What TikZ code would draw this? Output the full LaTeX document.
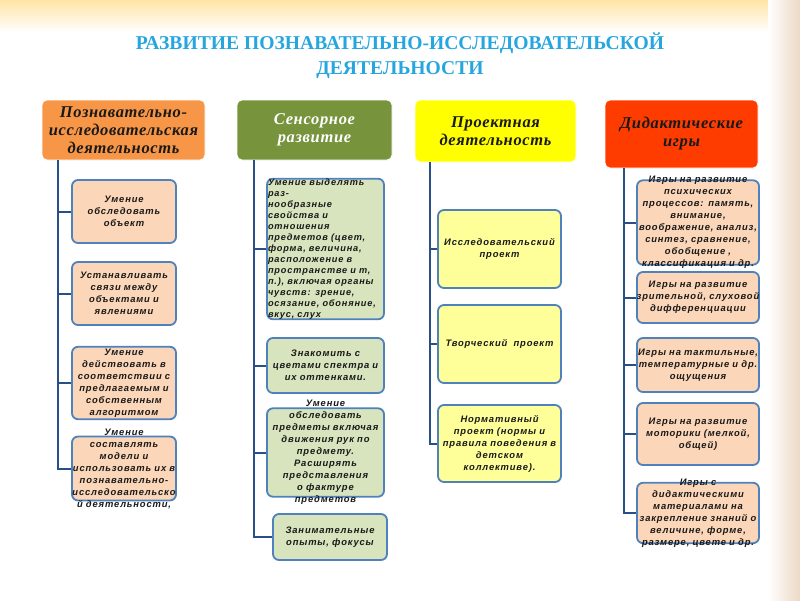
\documentclass[tikz,border=0pt]{standalone}
\usepackage{fontspec}
\setmainfont{Liberation Serif}
\newfontfamily\headfont[LetterSpace=4]{Liberation Serif}
\newfontfamily\boxfont[LetterSpace=9]{Liberation Sans}
\usetikzlibrary{positioning}
\definecolor{titleblue}{RGB}{38,166,222}
\definecolor{spineblue}{RGB}{40,80,135}
\definecolor{rimblue}{RGB}{79,129,189}
\definecolor{hdorange}{RGB}{247,150,70}
\definecolor{hdgreen}{RGB}{119,147,60}
\definecolor{hdyellow}{RGB}{255,255,0}
\definecolor{hdred}{RGB}{255,60,0}
\definecolor{softpeach}{RGB}{251,214,184}
\definecolor{softgreen}{RGB}{215,228,189}
\definecolor{softyellow}{RGB}{255,255,153}
\definecolor{inkgray}{RGB}{25,25,25}
\newcommand{\wideline}[1]{\makebox[\linewidth]{#1}}
\tikzset{
  head/.style={
    rounded corners=5pt,
    draw=white,
    thick,
    align=center,
    inner sep=2pt,
    text=inkgray,
    font=\headfont\bfseries\itshape\fontsize{16.5}{18}\selectfont
  },
  item/.style={
    rounded corners=6pt,
    draw=rimblue,
    line width=1.8pt,
    align=center,
    inner xsep=1pt,
    inner ysep=2pt,
    text=inkgray,
    font=\boxfont\bfseries\itshape\fontsize{9.4}{12}\selectfont
  },
  peachbox/.style={item, fill=softpeach},
  greenbox/.style={item, fill=softgreen},
  yellowbox/.style={item, fill=softyellow},
  spine/.style={draw=spineblue, line width=2pt}
}

\begin{document}
\begin{tikzpicture}[x=1pt, y=-1pt]
  \useasboundingbox (0,0) rectangle (800,600);
  % background
  \fill[white] (0,0) rectangle (800,600);
  \shade[top color=yellow!40!orange!35, bottom color=white] (0,0) rectangle (800,32);
  \shade[left color=white, right color=brown!30] (768,0) rectangle (800,600);

  % title
  \node[text=titleblue, align=center, font=\bfseries\fontsize{19.6}{25}\selectfont] (title) at (400,56)
    {РАЗВИТИЕ ПОЗНАВАТЕЛЬНО-ИССЛЕДОВАТЕЛЬСКОЙ\\ДЕЯТЕЛЬНОСТИ};

  % headers
  \node[head, fill=hdorange, minimum width=163pt, minimum height=60pt] (h1) at (123.5,130)
    {Познавательно-\\исследовательская\\деятельность};
  \node[head, fill=hdgreen, text=white, minimum width=155pt, minimum height=60pt] (h2) at (314.5,130)
    {Сенсорное\\развитие};
  \node[head, fill=hdyellow, minimum width=161pt, minimum height=62pt] (h3) at (495.5,131)
    {Проектная\\деятельность};
  \node[head, fill=hdred, minimum width=153pt, minimum height=68pt] (h4) at (681.5,134)
    {Дидактические\\игры};

  \coordinate (t1) at (58,160);
  \coordinate (t2) at (254,160);
  \coordinate (t3) at (430,162);
  \coordinate (t4) at (624,168);

  % column 1
  \node[peachbox, text width=102pt, minimum height=63pt] (b11) at (124,211.5)
    {Умение\\обследовать\\объект};
  \node[peachbox, text width=102pt, minimum height=63pt] (b12) at (124,293.5)
    {Устанавливать\\связи между\\объектами и\\явлениями};
  \node[peachbox, text width=102pt, minimum height=70pt] (b13) at (124,383)
    {Умение\\действовать в\\соответствии с\\предлагаемым и\\собственным\\алгоритмом};
  \node[peachbox, text width=102pt, inner ysep=-8pt] (b14) at (124,468.5)
    {Умение\\составлять\\модели и\\\wideline{использовать их в}\\познавательно-\\\wideline{исследовательско}\\\wideline{й деятельности,}};

  % column 2
  \node[greenbox, align=left, text width=115pt, inner ysep=0pt,
        font=\boxfont\bfseries\itshape\fontsize{9.2}{11}\selectfont] (b21) at (325.5,249)
    {Умение выделять\\раз-\\нообразные\\свойства и\\отношения\\предметов (цвет,\\форма, величина,\\расположение в\\пространстве и т,\\п.), включая органы\\чувств:  зрение,\\осязание, обоняние,\\вкус, слух};
  \node[greenbox, text width=115pt, minimum height=55pt] (b22) at (325.5,365.5)
    {Знакомить с\\цветами спектра и\\их оттенками.};
  \node[greenbox, text width=115pt, inner ysep=-8pt] (b23) at (325.5,452.5)
    {Умение\\обследовать\\предметы включая\\движения рук по\\предмету.\\Расширять\\представления\\о фактуре\\предметов};
  \node[greenbox, text width=112pt, minimum height=46pt] (b24) at (330,537)
    {Занимательные\\опыты, фокусы};

  % column 3
  \node[yellowbox, text width=121pt, minimum height=78pt] (b31) at (499.5,249)
    {Исследовательский\\проект};
  \node[yellowbox, text width=121pt, minimum height=78pt] (b32) at (499.5,344)
    {Творческий\ \ проект};
  \node[yellowbox, text width=121pt, minimum height=77pt] (b33) at (499.5,443.5)
    {Нормативный\\проект (нормы и\\правила поведения в\\детском\\коллективе).};

  % column 4
  \node[peachbox, text width=120pt, inner ysep=-4pt] (b41) at (698,222.5)
    {Игры на развитие\\психических\\процессов: память,\\внимание,\\\wideline{воображение, анализ,}\\синтез, сравнение,\\обобщение ,\\\wideline{классификация и др.}};
  \node[peachbox, text width=120pt, minimum height=51pt] (b42) at (698,297.5)
    {Игры на развитие\\\wideline{зрительной, слуховой}\\дифференциации};
  \node[peachbox, text width=120pt, minimum height=54pt] (b43) at (698,365)
    {\wideline{Игры на тактильные,}\\температурные и др.\\ощущения};
  \node[peachbox, text width=120pt, minimum height=62pt] (b44) at (698,434)
    {Игры на развитие\\моторики (мелкой,\\общей)};
  \node[peachbox, text width=120pt, inner ysep=-4pt] (b45) at (698,513)
    {Игры с\\дидактическими\\материалами на\\\wideline{закрепление знаний о}\\величине, форме,\\\wideline{размере, цвете и др.}};

  % connectors
  \foreach \b in {b11,b12,b13,b14} \draw[spine] (t1) |- (\b.west);
  \foreach \b in {b21,b22,b23,b24} \draw[spine] (t2) |- (\b.west);
  \foreach \b in {b31,b32,b33} \draw[spine] (t3) |- (\b.west);
  \foreach \b in {b41,b42,b43,b44,b45} \draw[spine] (t4) |- (\b.west);
\end{tikzpicture}
\end{document}
